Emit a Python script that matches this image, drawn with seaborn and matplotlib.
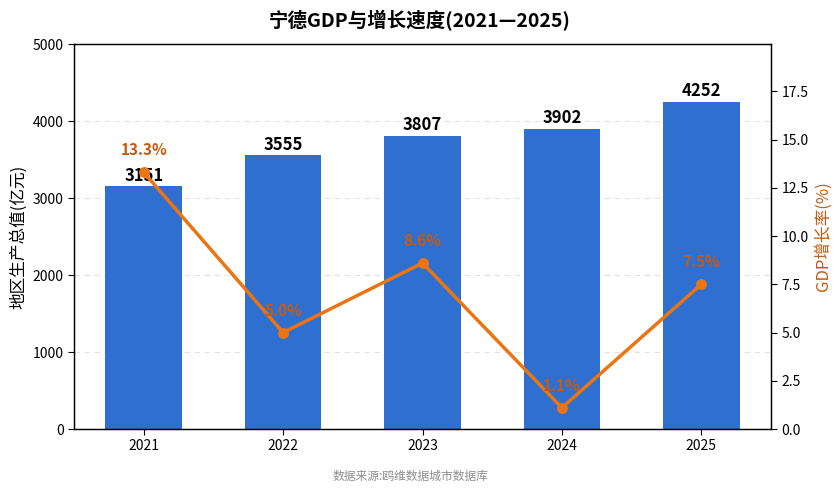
import matplotlib
matplotlib.use("Agg")
import matplotlib.pyplot as plt
import seaborn as sns
import pandas as pd
import numpy as np

years = ["2021", "2022", "2023", "2024", "2025"]
gdp = [3151, 3555, 3807, 3902, 4252]
growth = [13.3, 5.0, 8.6, 1.1, 7.5]

sns.set_theme(style="white")
plt.rcParams['font.family'] = ['Noto Sans CJK SC', 'DejaVu Sans']
plt.rcParams['axes.unicode_minus'] = False

bar_color = "#2F6FD0"
line_color = "#EA7512"
lab_color = "#C55A11"

df = pd.DataFrame({"year": years, "gdp": gdp, "growth": growth})

fig = plt.figure(figsize=(8.4, 4.94), dpi=100)
ax1 = fig.add_axes([74/840, 1-429/494, (771-74)/840, (429-44)/494])

sns.barplot(data=df, x="year", y="gdp", ax=ax1, color=bar_color, width=0.55,
            saturation=1, linewidth=0, edgecolor="none", zorder=2)
ax1.set_ylim(0, 5000)
ax1.set_yticks(np.arange(0, 5001, 1000))
ax1.yaxis.grid(True, linestyle=(0, (5, 4)), color="#e3e3e3", linewidth=0.8, zorder=0)
ax1.set_axisbelow(True)
ax1.set_xlabel("")
ax1.set_ylabel("地区生产总值(亿元)", fontsize=12, color="black")
ax1.tick_params(axis="both", labelsize=10, colors="black", length=4, width=0.8,
                left=True, bottom=True)
for s in ax1.spines.values():
    s.set_color("black")
    s.set_linewidth(0.9)
for c in ax1.containers:
    ax1.bar_label(c, labels=[f"{v}" for v in gdp], padding=1, fontsize=12,
                  fontweight="bold", color="black")

ax2 = ax1.twinx()
sns.pointplot(data=df, x="year", y="growth", ax=ax2, color=line_color,
              markers="o", markersize=6, linewidth=2.5, zorder=5)
ax2.set_ylim(0, max(growth) * 1.5)
ax2.set_yticks(np.arange(0, 17.6, 2.5))
ax2.set_ylabel("GDP增长率(%)", fontsize=12, color=lab_color)
ax2.tick_params(axis="y", labelsize=10, colors="black", length=4, width=0.8, right=True)
ax2.grid(False)
ax2.set_xlim(ax1.get_xlim())
for i, g in enumerate(growth):
    ax2.annotate(f"{g:.1f}%", (i, g), xytext=(0, 10), textcoords="offset points",
                 ha="center", va="bottom", fontsize=11, fontweight="bold",
                 color=lab_color, zorder=6)
for s in ax2.spines.values():
    s.set_color("black")
    s.set_linewidth(0.9)

fig.text(0.5, 1 - 21/494, "宁德GDP与增长速度(2021—2025)", ha="center", va="center",
         fontsize=14, fontweight="bold", color="black")
fig.text(411/840, 1 - 476/494, "数据来源:鸥维数据城市数据库", ha="center", va="center",
         fontsize=8.5, color="#8f8f8f")

fig.savefig("out.png", dpi=100)
